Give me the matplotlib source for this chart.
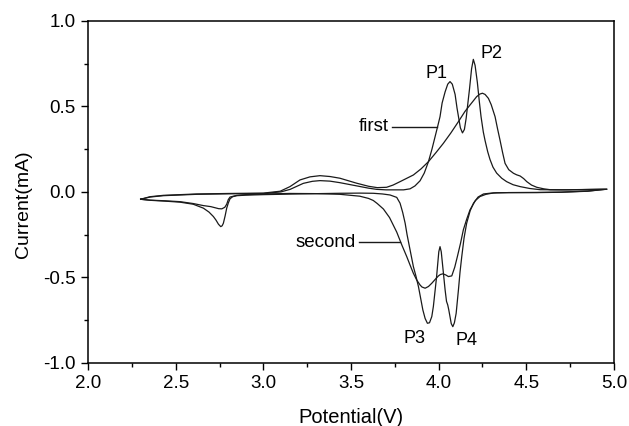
import matplotlib
matplotlib.use("Agg")
import matplotlib.pyplot as plt
from matplotlib.ticker import MultipleLocator, FormatStrFormatter

plt.rcParams['font.family'] = ['Liberation Sans', 'DejaVu Sans']
plt.rcParams['axes.unicode_minus'] = False

# cycle with the sharp peaks (P1..P4), anodic sweep 2.3 -> 4.96 V
first_anodic_v = [2.30, 2.354, 2.43, 2.62, 2.81, 3.00, 3.10, 3.153, 3.228, 3.28, 3.323,
                  3.38, 3.437, 3.532, 3.60, 3.646, 3.70, 3.76, 3.80, 3.837, 3.865, 3.894,
                  3.918, 3.942, 3.962, 3.980, 3.995, 4.008, 4.020, 4.037, 4.052, 4.065,
                  4.078, 4.094, 4.105, 4.113, 4.124, 4.136, 4.147, 4.157, 4.167, 4.176,
                  4.188, 4.198, 4.208, 4.221, 4.232, 4.242, 4.255, 4.265, 4.280, 4.293,
                  4.31, 4.331, 4.36, 4.388, 4.425, 4.465, 4.52, 4.579, 4.70, 4.85, 4.96]
first_anodic_i = [-0.043, -0.030, -0.022, -0.014, -0.011, -0.009, 0.000, 0.015, 0.050, 0.062, 0.066,
                  0.063, 0.054, 0.035, 0.022, 0.015, 0.012, 0.012, 0.012, 0.018, 0.035, 0.065,
                  0.110, 0.177, 0.250, 0.323, 0.385, 0.440, 0.520, 0.585, 0.630, 0.645,
                  0.630, 0.570, 0.490, 0.440, 0.375, 0.345, 0.365, 0.430, 0.520, 0.600,
                  0.720, 0.775, 0.740, 0.640, 0.530, 0.440, 0.350, 0.300, 0.235, 0.190,
                  0.145, 0.110, 0.080, 0.060, 0.042, 0.031, 0.020, 0.013, 0.012, 0.014, 0.016]

# same cycle, cathodic sweep 4.96 -> 2.3 V
first_cathodic_v = [4.96, 4.85, 4.70, 4.56, 4.40, 4.332, 4.29, 4.256, 4.225, 4.199, 4.180,
                    4.160, 4.145, 4.132, 4.122, 4.113, 4.100, 4.090, 4.081, 4.072, 4.065,
                    4.058, 4.052, 4.045, 4.037, 4.030, 4.022, 4.015, 4.008, 4.001, 3.995,
                    3.988, 3.980, 3.970, 3.961, 3.948, 3.936, 3.923, 3.910, 3.897, 3.885,
                    3.870, 3.856, 3.845, 3.833, 3.820, 3.809, 3.795, 3.780, 3.761, 3.723,
                    3.68, 3.627, 3.55, 3.437, 3.30, 3.19, 3.00, 2.90, 2.849, 2.825, 2.810,
                    2.800, 2.791, 2.782, 2.772, 2.765, 2.757, 2.744, 2.730, 2.715, 2.69,
                    2.658, 2.60, 2.525, 2.44, 2.354, 2.30]
first_cathodic_i = [0.016, 0.004, -0.002, -0.004, -0.004, -0.005, -0.008, -0.012, -0.030, -0.066, -0.110,
                    -0.183, -0.270, -0.378, -0.470, -0.573, -0.710, -0.765, -0.788, -0.770, -0.729,
                    -0.690, -0.661, -0.640, -0.573, -0.500, -0.417, -0.350, -0.320, -0.350, -0.417,
                    -0.500, -0.573, -0.670, -0.729, -0.765, -0.768, -0.740, -0.690, -0.620, -0.554,
                    -0.490, -0.437, -0.380, -0.320, -0.250, -0.183, -0.120, -0.066, -0.032, -0.018,
                    -0.012, -0.008, -0.007, -0.008, -0.010, -0.012, -0.016, -0.019, -0.022, -0.028, -0.040,
                    -0.065, -0.095, -0.140, -0.183, -0.198, -0.203, -0.189, -0.165, -0.144, -0.118,
                    -0.095, -0.072, -0.060, -0.054, -0.049, -0.043]

# cycle with the broad peaks, anodic sweep
second_anodic_v = [2.30, 2.354, 2.43, 2.62, 2.81, 3.00, 3.096, 3.152, 3.209, 3.266, 3.323,
                   3.38, 3.437, 3.532, 3.60, 3.65, 3.703, 3.74, 3.780, 3.856, 3.90, 3.942,
                   3.985, 4.027, 4.07, 4.113, 4.15, 4.179, 4.20, 4.217, 4.235, 4.250, 4.265,
                   4.284, 4.30, 4.322, 4.336, 4.350, 4.365, 4.379, 4.40, 4.427, 4.445, 4.465,
                   4.485, 4.503, 4.53, 4.560, 4.60, 4.636, 4.75, 4.85, 4.96]
second_anodic_i = [-0.043, -0.028, -0.020, -0.012, -0.009, -0.007, 0.004, 0.031, 0.070, 0.088, 0.095,
                   0.090, 0.080, 0.051, 0.033, 0.025, 0.027, 0.040, 0.060, 0.099, 0.135, 0.177,
                   0.230, 0.284, 0.345, 0.411, 0.470, 0.508, 0.535, 0.557, 0.572, 0.577, 0.570,
                   0.547, 0.510, 0.440, 0.370, 0.304, 0.230, 0.167, 0.130, 0.109, 0.100, 0.093,
                   0.078, 0.060, 0.040, 0.027, 0.018, 0.013, 0.012, 0.014, 0.016]

# broad cycle, cathodic sweep
second_cathodic_v = [4.96, 4.85, 4.70, 4.56, 4.40, 4.313, 4.27, 4.236, 4.21, 4.179, 4.16,
                     4.141, 4.125, 4.107, 4.092, 4.075, 4.056, 4.040, 4.024, 4.010, 3.999,
                     3.980, 3.961, 3.942, 3.923, 3.905, 3.894, 3.875, 3.856, 3.838, 3.818,
                     3.79, 3.761, 3.72, 3.685, 3.65, 3.627, 3.60, 3.55, 3.437, 3.30, 3.152,
                     3.00, 2.90, 2.849, 2.81, 2.80, 2.791, 2.78, 2.763, 2.745, 2.734, 2.70,
                     2.658, 2.60, 2.525, 2.44, 2.354, 2.30]
second_cathodic_i = [0.016, 0.005, -0.001, -0.003, -0.004, -0.006, -0.014, -0.027, -0.050, -0.105, -0.160,
                     -0.222, -0.300, -0.378, -0.440, -0.491, -0.495, -0.485, -0.479, -0.483, -0.491,
                     -0.512, -0.534, -0.553, -0.563, -0.556, -0.544, -0.515, -0.476, -0.430, -0.378,
                     -0.310, -0.235, -0.150, -0.100, -0.068, -0.050, -0.038, -0.025, -0.014, -0.010, -0.009,
                     -0.012, -0.016, -0.020, -0.030, -0.045, -0.072, -0.090, -0.099, -0.098, -0.095, -0.086,
                     -0.080, -0.068, -0.057, -0.052, -0.048, -0.043]

peak_labels = ['P1', 'P2', 'P3', 'P4']
peak_label_v = [3.99, 4.30, 3.865, 4.16]
peak_label_i = [0.693, 0.81, -0.855, -0.868]

# curve name, text anchor (right end), leader line end
curve_labels = [('first', 3.715, 0.382, 3.99), ('second', 3.527, -0.294, 3.78)]

fig = plt.figure(figsize=(6.29, 4.26), dpi=100)
ax = fig.add_axes([0.140, 0.148, 0.836, 0.803])

line_kw = dict(color='#1a1a1a', lw=0.9)
ax.plot(first_anodic_v + first_cathodic_v, first_anodic_i + first_cathodic_i, **line_kw)
ax.plot(second_anodic_v + second_cathodic_v, second_anodic_i + second_cathodic_i, **line_kw)

for lab, v, i in zip(peak_labels, peak_label_v, peak_label_i):
    ax.text(v, i, lab, fontsize=13, ha='center', va='center')

for name, tx, ty, lx in curve_labels:
    ax.text(tx, ty, name, fontsize=13.5, ha='right', va='center')
    ax.plot([tx + 0.02, lx], [ty, ty], color='#1a1a1a', lw=1.0)

ax.set_xlim(2.0, 5.0)
ax.set_ylim(-1.0, 1.0)
ax.xaxis.set_major_locator(MultipleLocator(0.5))
ax.xaxis.set_minor_locator(MultipleLocator(0.25))
ax.yaxis.set_major_locator(MultipleLocator(0.5))
ax.yaxis.set_minor_locator(MultipleLocator(0.25))
ax.xaxis.set_major_formatter(FormatStrFormatter('%.1f'))
ax.yaxis.set_major_formatter(FormatStrFormatter('%.1f'))
ax.tick_params(which='both', direction='out', top=False, right=False, width=1.0, labelsize=13.5)
ax.tick_params(which='major', length=4.7, pad=4)
ax.tick_params(which='minor', length=3)
for sp in ax.spines.values():
    sp.set_linewidth(1.1)

ax.set_xlabel('Potential(V)', fontsize=14.5)
ax.set_ylabel('Current(mA)', fontsize=14)
ax.xaxis.set_label_coords(0.5, -0.132)
ax.yaxis.set_label_coords(-0.106, 0.463)

fig.savefig('out.png', dpi=100)
